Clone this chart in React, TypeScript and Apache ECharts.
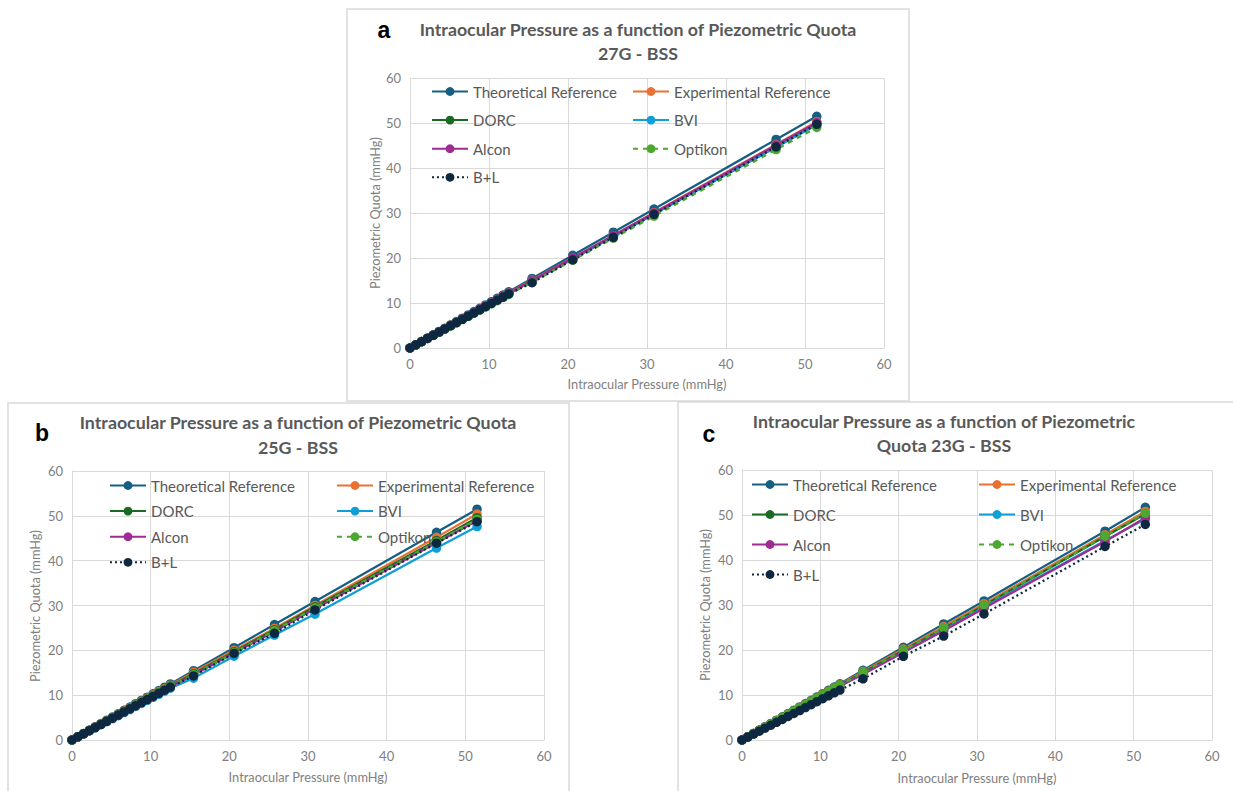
import React, { useEffect, useRef } from "react";
import * as echarts from "echarts";

// Intraocular pressure (mmHg) – x values shared by all series
const xs = [0, 0.74, 1.47, 2.21, 2.94, 3.68, 4.41, 5.15, 5.88, 6.62, 7.36, 8.09, 8.83, 9.56, 10.3, 11.03, 11.77, 12.5, 15.45, 20.6, 25.74, 30.89, 46.34, 51.49];

const seriesNames = ["Theoretical Reference", "Experimental Reference", "DORC", "BVI", "Alcon", "Optikon", "B+L"];

// Panel a – 27G
const theo27 = [0, 0.74, 1.47, 2.21, 2.94, 3.68, 4.41, 5.15, 5.88, 6.62, 7.36, 8.09, 8.83, 9.56, 10.3, 11.03, 11.77, 12.5, 15.45, 20.6, 25.74, 30.89, 46.34, 51.49];
const exp27 = [0, 0.72, 1.44, 2.16, 2.87, 3.6, 4.31, 5.03, 5.74, 6.47, 7.19, 7.9, 8.63, 9.34, 10.06, 10.78, 11.5, 12.21, 15.1, 20.0, 25.0, 30.1, 45.2, 50.3];
const dorc27 = [0, 0.71, 1.42, 2.13, 2.84, 3.55, 4.26, 4.97, 5.67, 6.39, 7.1, 7.81, 8.52, 9.23, 9.94, 10.64, 11.36, 12.06, 14.9, 19.8, 24.8, 29.8, 44.7, 49.7];
const bvi27 = [0, 0.71, 1.42, 2.13, 2.83, 3.54, 4.25, 4.96, 5.66, 6.37, 7.09, 7.79, 8.5, 9.2, 9.92, 10.62, 11.33, 12.04, 14.9, 19.8, 24.8, 29.8, 44.6, 49.6];
const alcon27 = [0, 0.72, 1.43, 2.15, 2.86, 3.58, 4.29, 5.01, 5.72, 6.44, 7.16, 7.87, 8.59, 9.3, 10.02, 10.73, 11.45, 12.16, 15.0, 20.0, 25.0, 30.0, 45.1, 50.1];
const optikon27 = [0, 0.7, 1.4, 2.11, 2.8, 3.51, 4.2, 4.91, 5.6, 6.31, 7.01, 7.71, 8.41, 9.11, 9.82, 10.51, 11.22, 11.91, 14.6, 19.5, 24.4, 29.3, 44.1, 49.0];
const bl27 = [0, 0.71, 1.41, 2.12, 2.83, 3.54, 4.24, 4.95, 5.66, 6.37, 7.08, 7.78, 8.49, 9.2, 9.91, 10.61, 11.32, 12.02, 14.5, 19.6, 24.6, 29.7, 44.7, 49.7];

// Panel b – 25G
const theo25 = [0, 0.74, 1.47, 2.21, 2.94, 3.68, 4.41, 5.15, 5.88, 6.62, 7.36, 8.09, 8.83, 9.56, 10.3, 11.03, 11.77, 12.5, 15.45, 20.6, 25.74, 30.89, 46.34, 51.49];
const exp25 = [0, 0.72, 1.44, 2.16, 2.88, 3.6, 4.31, 5.04, 5.75, 6.47, 7.2, 7.91, 8.64, 9.35, 10.07, 10.79, 11.51, 12.23, 15.1, 20.0, 24.9, 30.0, 45.2, 50.4];
const dorc25 = [0, 0.71, 1.42, 2.13, 2.83, 3.54, 4.25, 4.96, 5.66, 6.38, 7.09, 7.79, 8.5, 9.21, 9.92, 10.62, 11.33, 12.04, 14.8, 19.7, 24.6, 29.7, 44.5, 49.6];
const bvi25 = [0, 0.68, 1.36, 2.04, 2.72, 3.4, 4.07, 4.76, 5.43, 6.12, 6.8, 7.48, 8.16, 8.83, 9.52, 10.19, 10.88, 11.55, 13.8, 18.7, 23.4, 28.1, 42.8, 47.6];
const alcon25 = [0, 0.7, 1.39, 2.1, 2.79, 3.49, 4.18, 4.88, 5.57, 6.28, 6.98, 7.67, 8.37, 9.06, 9.76, 10.46, 11.16, 11.85, 14.5, 19.4, 24.2, 29.3, 44.0, 48.9];
const optikon25 = [0, 0.71, 1.4, 2.11, 2.81, 3.51, 4.21, 4.92, 5.62, 6.32, 7.03, 7.73, 8.43, 9.13, 9.84, 10.53, 11.24, 11.94, 14.6, 19.5, 24.4, 29.5, 44.2, 49.2];
const bl25 = [0, 0.7, 1.39, 2.09, 2.78, 3.48, 4.17, 4.87, 5.56, 6.26, 6.96, 7.65, 8.34, 9.03, 9.73, 10.42, 11.12, 11.81, 14.3, 19.3, 23.8, 29.0, 43.9, 48.7];

// Panel c – 23G
const theo23 = [0, 0.74, 1.47, 2.21, 2.94, 3.68, 4.41, 5.15, 5.88, 6.62, 7.36, 8.09, 8.83, 9.56, 10.3, 11.03, 11.77, 12.5, 15.5, 20.6, 25.8, 30.9, 46.4, 51.7];
const exp23 = [0, 0.73, 1.45, 2.18, 2.9, 3.62, 4.34, 5.07, 5.79, 6.52, 7.25, 7.97, 8.7, 9.42, 10.15, 10.86, 11.59, 12.31, 15.2, 20.2, 25.2, 30.3, 45.6, 50.8];
const dorc23 = [0, 0.72, 1.43, 2.15, 2.87, 3.59, 4.3, 5.02, 5.73, 6.45, 7.18, 7.89, 8.61, 9.32, 10.04, 10.75, 11.48, 12.19, 15.0, 19.9, 24.8, 29.9, 45.2, 50.2];
const bvi23 = [0, 0.71, 1.4, 2.11, 2.81, 3.51, 4.21, 4.92, 5.62, 6.32, 7.03, 7.73, 8.43, 9.13, 9.84, 10.53, 11.24, 11.94, 14.7, 19.5, 24.4, 29.5, 44.3, 49.1];
const alcon23 = [0, 0.71, 1.41, 2.12, 2.82, 3.53, 4.23, 4.94, 5.64, 6.36, 7.07, 7.77, 8.48, 9.18, 9.89, 10.59, 11.3, 12.0, 14.6, 19.5, 24.3, 29.3, 44.1, 49.4];
const optikon23 = [0, 0.72, 1.44, 2.16, 2.87, 3.59, 4.3, 5.02, 5.74, 6.46, 7.18, 7.89, 8.61, 9.33, 10.05, 10.76, 11.48, 12.2, 15.0, 19.9, 24.9, 30.0, 45.3, 50.4];
const bl23 = [0, 0.66, 1.31, 1.97, 2.62, 3.28, 3.93, 4.58, 5.23, 5.89, 6.55, 7.2, 7.86, 8.51, 9.17, 9.82, 10.48, 11.1, 13.6, 18.6, 23.1, 28.0, 43.0, 47.9];

const titles27 = ["Intraocular Pressure as a function of Piezometric Quota", "27G - BSS"];
const titles25 = ["Intraocular Pressure as a function of Piezometric Quota", "25G - BSS"];
const titles23 = ["Intraocular Pressure as a function of Piezometric", "Quota 23G - BSS"];
const xName = "Intraocular Pressure (mmHg)";
const yName = "Piezometric Quota (mmHg)";

const colors = ["#156082", "#E97132", "#196B24", "#0F9ED5", "#A02B93", "#4EA72E", "#0E2841"];
const lineTypes: any[] = ["solid", "solid", "solid", "solid", "solid", [5, 5], [2, 3]];

const FONT = "Lato, 'Open Sans', sans-serif";

const panels = [
  {
    letter: "a", titles: titles27,
    data: [theo27, exp27, dorc27, bvi27, alcon27, optikon27, bl27],
    box: { x: 347, y: 9, w: 562, h: 392 },
    grid: { left: 410, top: 78, width: 474, height: 270 },
    titleX: 638, titleY: [29, 53], letterPos: [384, 30],
    xNamePos: [647, 384], yNamePos: [375, 213],
    legend: { col1: 431, col2: 632, top: 84, gap: 13.6 },
  },
  {
    letter: "b", titles: titles25,
    data: [theo25, exp25, dorc25, bvi25, alcon25, optikon25, bl25],
    box: { x: 8, y: 403, w: 561, h: 400 },
    grid: { left: 72, top: 471, width: 472, height: 269 },
    titleX: 298, titleY: [422, 447], letterPos: [42, 433],
    xNamePos: [308, 777], yNamePos: [35, 606],
    legend: { col1: 109, col2: 336, top: 478, gap: 10.6 },
  },
  {
    letter: "c", titles: titles23,
    data: [theo23, exp23, dorc23, bvi23, alcon23, optikon23, bl23],
    box: { x: 678, y: 402, w: 570, h: 400 },
    grid: { left: 742, top: 470, width: 470, height: 270 },
    titleX: 944, titleY: [421, 445], letterPos: [709, 434],
    xNamePos: [977, 778], yNamePos: [705, 605],
    legend: { col1: 751, col2: 978, top: 477, gap: 15 },
  },
];

export default function App() {
  const ref = useRef<HTMLDivElement>(null);
  useEffect(() => {
    if (!ref.current) return;
    const chart = echarts.init(ref.current, undefined, { renderer: "svg" });

    const grid: any[] = [];
    const xAxis: any[] = [];
    const yAxis: any[] = [];
    const series: any[] = [];
    const legend: any[] = [];
    const graphic: any[] = [];

    panels.forEach((p, pi) => {
      grid.push({ ...p.grid, containLabel: false });
      const axisCommon = {
        type: "value",
        min: 0, max: 60, interval: 10,
        gridIndex: pi,
        axisLine: { show: true, lineStyle: { color: "#D9D9D9", width: 1 } },
        axisTick: { show: false },
        splitLine: { show: true, lineStyle: { color: "#D9D9D9", width: 1 } },
        axisLabel: { color: "#808080", fontSize: 13, fontFamily: FONT, margin: 9 },
      };
      xAxis.push({ ...axisCommon });
      yAxis.push({ ...axisCommon });
      seriesNames.forEach((name, si) => {
        series.push({
          type: "line",
          name,
          xAxisIndex: pi,
          yAxisIndex: pi,
          data: xs.map((x, i) => [x, p.data[si][i]]),
          symbol: "circle",
          symbolSize: 9.5,
          showSymbol: true,
          color: colors[si],
          itemStyle: { color: colors[si] },
          lineStyle: { color: colors[si], width: 2.25, type: lineTypes[si] },
          emphasis: { disabled: true },
        });
      });
      const legendCommon = {
        orient: "vertical",
        top: p.legend.top,
        itemWidth: 36,
        itemHeight: 11,
        itemGap: p.legend.gap,
        padding: 0,
        selectedMode: false,
        textStyle: { color: "#595959", fontSize: 15, fontFamily: FONT, lineHeight: 15 },
      };
      legend.push({ ...legendCommon, left: p.legend.col1, data: [seriesNames[0], seriesNames[2], seriesNames[4], seriesNames[6]] });
      legend.push({ ...legendCommon, left: p.legend.col2, data: [seriesNames[1], seriesNames[3], seriesNames[5]] });

      graphic.push({
        type: "rect",
        shape: { x: p.box.x, y: p.box.y, width: p.box.w, height: p.box.h },
        style: { fill: "none", stroke: "#D9D9D9", lineWidth: 1.5 },
        z: -1,
      });
      p.titles.forEach((t, ti) => {
        graphic.push({
          type: "text", x: p.titleX, y: p.titleY[ti],
          style: { text: t, fill: "#595959", font: `bold 17.8px ${FONT}`, textAlign: "center", textVerticalAlign: "middle" },
        });
      });
      graphic.push({
        type: "text", x: p.letterPos[0], y: p.letterPos[1],
        style: { text: p.letter, fill: "#000000", font: "bold 23px 'Liberation Sans', Arial, sans-serif", textAlign: "center", textVerticalAlign: "middle" },
      });
      graphic.push({
        type: "text", x: p.xNamePos[0], y: p.xNamePos[1],
        style: { text: xName, fill: "#808080", font: `12.8px ${FONT}`, textAlign: "center", textVerticalAlign: "middle" },
      });
      graphic.push({
        type: "text", x: p.yNamePos[0], y: p.yNamePos[1], rotation: Math.PI / 2,
        style: { text: yName, fill: "#808080", font: `12.8px ${FONT}`, textAlign: "center", textVerticalAlign: "middle" },
      });
    });

    chart.setOption({
      animation: false,
      backgroundColor: "#ffffff",
      grid, xAxis, yAxis, series, legend, graphic,
    });
    return () => chart.dispose();
  }, []);

  return (
    <div
      ref={ref}
      style={{ position: "absolute", left: 0, top: 0, width: 1233, height: 791 }}
    />
  );
}
